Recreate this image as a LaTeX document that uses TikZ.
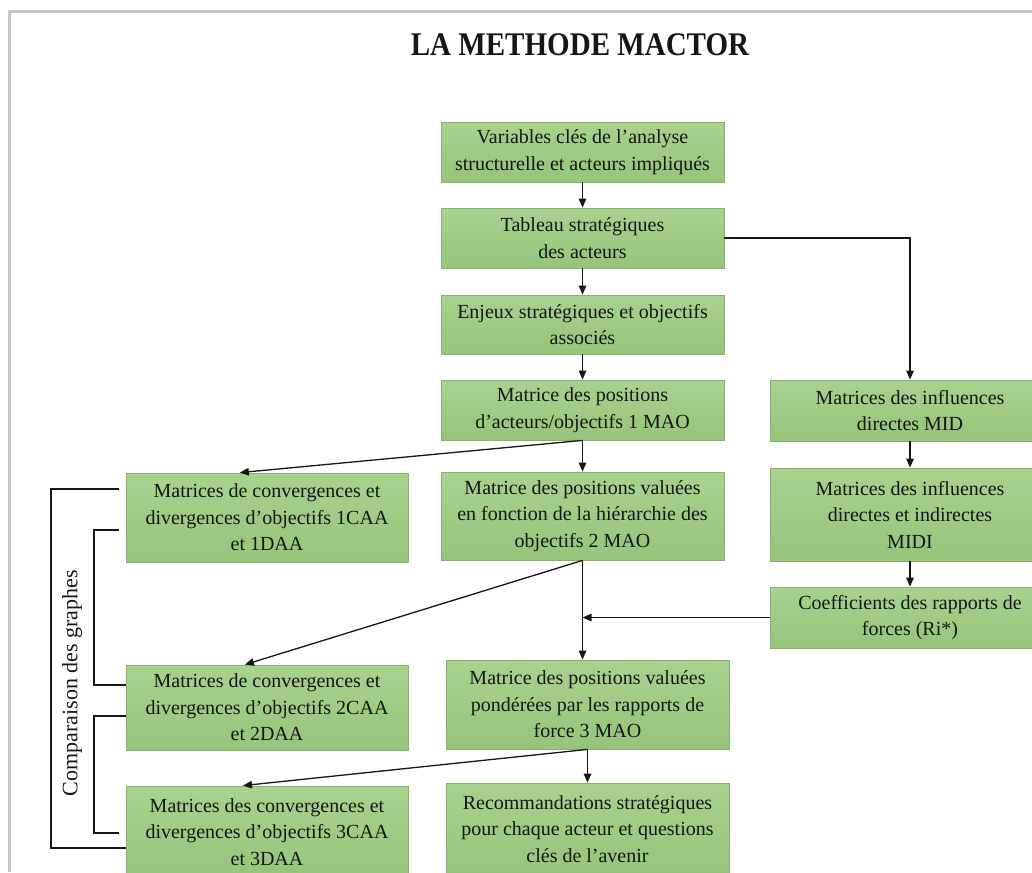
\documentclass[tikz,border=0pt]{standalone}
\usepackage{fontspec}
\setmainfont{Liberation Serif}
\newfontfamily\boxserif{Liberation Serif}
\usetikzlibrary{arrows.meta,calc}
\definecolor{boxtop}{HTML}{A8D28E}
\definecolor{boxbot}{HTML}{96C47B}
\definecolor{boxline}{HTML}{86B26B}
\definecolor{framegray}{HTML}{C8C8C8}
\definecolor{ink}{HTML}{161616}
\begin{document}
\begin{tikzpicture}[x=1pt,y=-1pt,
  stepbox/.style={rectangle, draw=boxline, line width=0.8pt,
    top color=boxtop, bottom color=boxbot, text=ink, align=center,
    font=\boxserif\fontsize{20}{26.5}\selectfont, inner sep=0pt},
  link/.style={draw=ink, line width=1.3pt},
  arr/.style={link, -{Triangle[length=9pt,width=7.5pt]}},
]
\useasboundingbox (0,0) rectangle (1032,872);
\clip (0,0) rectangle (1032,872);
\fill[white] (0,0) rectangle (1032,872);
% page frame
\draw[framegray, line width=3pt] (9,872) -- (9,12) -- (1032,12);

% title
\node[anchor=base, text=ink, font=\boxserif\fontsize{33}{36}\selectfont\bfseries] (title) at (580,56)
  {\scalebox{0.88}[1]{LA METHODE MACTOR}};

% central column
\node[stepbox, minimum width=283pt, minimum height=60pt] (b1) at (582.5,152)
  {Variables clés de l’analyse\\structurelle et acteurs impliqués};
\node[stepbox, minimum width=283pt, minimum height=60pt] (b2) at (582.5,238)
  {Tableau stratégiques\\des acteurs};
\node[stepbox, minimum width=283pt, minimum height=59pt] (b3) at (582.5,324.5)
  {Enjeux stratégiques et objectifs\\associés};
\node[stepbox, minimum width=283pt, minimum height=60pt] (b4) at (582.5,410)
  {Matrice des positions\\d’acteurs/objectifs 1 MAO};
\node[stepbox, minimum width=283pt, minimum height=88pt] (b5) at (582.5,516)
  {Matrice des positions valuées\\en fonction de la hiérarchie des\\objectifs 2 MAO};
\node[stepbox, minimum width=283pt, minimum height=89pt] (m3) at (587.5,704.5)
  {Matrice des positions valuées\\pondérées par les rapports de\\force 3 MAO};
\node[stepbox, minimum width=283pt, minimum height=92pt] (reco) at (587.5,829)
  {Recommandations stratégiques\\pour chaque acteur et questions\\clés de l’avenir};

% left column
\node[stepbox, minimum width=282pt, minimum height=89pt] (l1) at (267,517.5)
  {Matrices de convergences et\\divergences d’objectifs 1CAA\\et 1DAA};
\node[stepbox, minimum width=282pt, minimum height=85pt] (l2) at (267,707.5)
  {Matrices de convergences et\\divergences d’objectifs 2CAA\\et 2DAA};
\node[stepbox, minimum width=282pt, minimum height=92pt] (l3) at (267,832)
  {Matrices des convergences et\\divergences d’objectifs 3CAA\\et 3DAA};

% right column
\node[stepbox, minimum width=280pt, minimum height=61pt] (mid) at (910,410.5)
  {Matrices des influences\\directes MID};
\node[stepbox, minimum width=280pt, minimum height=93pt] (midi) at (910,514.5)
  {Matrices des influences\\directes et indirectes\\MIDI};
\node[stepbox, minimum width=280pt, minimum height=61pt] (coef) at (910,617.5)
  {Coefficients des rapports de\\forces (Ri*)};

% comparison label
\node[rotate=90, text=ink, font=\boxserif\fontsize{22}{26}\selectfont] (cmp) at (72,683)
  {Comparaison des graphes};

% main flow
\draw[arr] (b1) -- (b2);
\draw[arr] (b2) -- (b3);
\draw[arr] (b3) -- (b4);
\draw[arr] (b4.south) -- (b5.north);
\draw[arr] (b4.south) -- ($(l1.north west)!0.404!(l1.north east)$);
\draw[arr] (b5.south) -- (b5.south |- m3.north);
\draw[arr] (b5.south) -- ($(l2.north west)!0.422!(l2.north east)$);
\draw[arr] (m3.south) -- (reco.north);
\draw[arr] (m3.south) -- ($(l3.north west)!0.415!(l3.north east)$);

% influence branch
\draw[arr] (b2.east) -| (mid.north);
\draw[arr] (mid) -- (midi);
\draw[arr] (midi) -- (coef);
\draw[arr] (coef.west) -- (coef.west -| b5.south);

% comparison brackets
\draw[link] ($(l1.west)+(-7,-28.5)$) -| (51,848) -- ($(l3.west)+(0,16)$);
\draw[link] ($(l1.west)+(-7,12.5)$) -| (94,685) -- ($(l2.west)+(0,-22.5)$);
\draw[link] ($(l2.west)+(0,8.5)$) -| (94,833) -- ($(l3.west)+(-7,1)$);
\end{tikzpicture}
\end{document}
